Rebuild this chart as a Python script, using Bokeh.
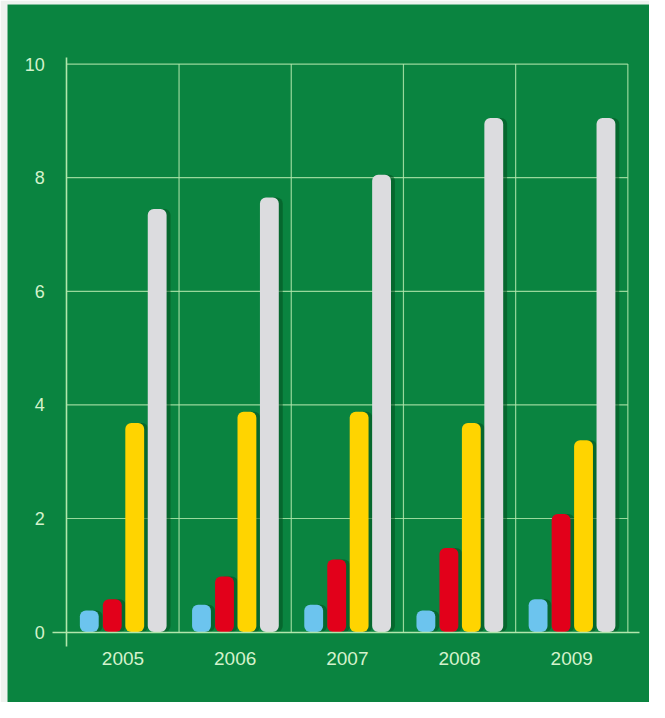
from bokeh.plotting import figure
from bokeh.models import Range1d, LinearAxis, FixedTicker, ColumnDataSource
from bokeh.embed import file_html
from bokeh.resources import INLINE

years = ["2005", "2006", "2007", "2008", "2009"]
series_blue = [0.38, 0.48, 0.48, 0.38, 0.58]
series_red = [0.58, 0.98, 1.28, 1.48, 2.08]
series_yellow = [3.68, 3.88, 3.88, 3.68, 3.38]
series_gray = [7.45, 7.65, 8.05, 9.05, 9.05]
y_ticks = [0, 2, 4, 6, 8, 10]

colors = ["#6cc4ee", "#e2001a", "#ffd400", "#dcdcdf"]
offsets = [-0.3, -0.095, 0.105, 0.305]
series = [series_blue, series_red, series_yellow, series_gray]

BG = "#0a8440"
LINE = "#b2e6ac"
LABEL = "#d4f2cc"

p = figure(width=649, height=702, output_backend="svg", toolbar_location=None,
           x_axis_location=None, y_axis_location=None,
           min_border_left=7, min_border_top=4, min_border_right=0, min_border_bottom=0,
           x_range=Range1d(-0.529, 5.193), y_range=Range1d(-1.239, 11.049))
p.background_fill_color = BG
p.border_fill_color = "#eef2ee"
p.outline_line_color = None
p.grid.visible = False

centers = [i + 0.5 for i in range(len(years))]
ncat = len(years)

# grid lines from the tick lists
p.segment(x0=[0] * (len(y_ticks) - 1), x1=[ncat] * (len(y_ticks) - 1),
          y0=y_ticks[1:], y1=y_ticks[1:], line_color=LINE, line_width=1.2, line_alpha=0.85)
p.segment(x0=list(range(1, ncat + 1)), x1=list(range(1, ncat + 1)),
          y0=[0] * ncat, y1=[y_ticks[-1]] * ncat, line_color=LINE, line_width=1.2, line_alpha=0.85)

w = 0.168
for vals, col, off in zip(series, colors, offsets):
    xs = [c + off for c in centers]
    src = ColumnDataSource(dict(x=xs, xs=[x + 0.035 for x in xs], top=vals))
    p.vbar(x="xs", top="top", bottom=0, width=w, source=src,
           fill_color="#03501f", fill_alpha=0.55, line_color=None, border_radius=6)
    p.vbar(x="x", top="top", bottom=0, width=w, source=src,
           fill_color=col, line_color=None, border_radius=6)

yaxis = LinearAxis(fixed_location=0, bounds=(-0.25, 10.12),
                   ticker=FixedTicker(ticks=y_ticks, minor_ticks=[]))
yaxis.axis_line_color = LINE
yaxis.axis_line_width = 1.6
yaxis.major_tick_line_color = None
yaxis.minor_tick_line_color = None
yaxis.major_label_standoff = 16
yaxis.major_label_text_color = LABEL
yaxis.major_label_text_font = "Liberation Sans"
yaxis.major_label_text_font_size = "18px"
p.add_layout(yaxis, "left")

xaxis = LinearAxis(fixed_location=0, bounds=(-0.13, 5.1),
                   ticker=FixedTicker(ticks=centers, minor_ticks=[]),
                   major_label_overrides={c: y for c, y in zip(centers, years)})
xaxis.axis_line_color = LINE
xaxis.axis_line_width = 1.6
xaxis.major_tick_line_color = None
xaxis.minor_tick_line_color = None
xaxis.major_label_standoff = 14
xaxis.major_label_text_color = LABEL
xaxis.major_label_text_font = "Liberation Sans"
xaxis.major_label_text_font_size = "19px"
p.add_layout(xaxis, "below")

open("out.html", "w").write(file_html(p, INLINE))
